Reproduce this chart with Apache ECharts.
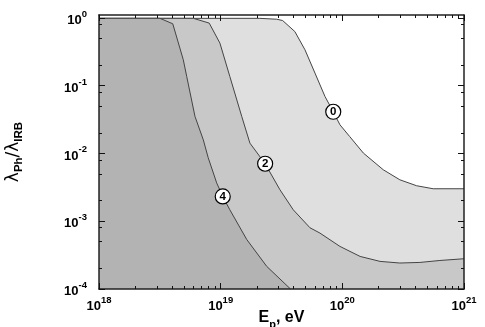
<!DOCTYPE html>
<html><head><meta charset="utf-8">
<script src="https://cdn.jsdelivr.net/npm/echarts@6/dist/echarts.min.js"></script>
<style>html,body{margin:0;padding:0;background:#fff}#c{width:485px;height:327px}</style>
</head><body><div id="c"></div>
<script>
// Contour boundaries (E_p in eV, lambda_Ph/lambda_IRB)
const curve0 = [[1e18,1],[2.1e19,1],[2.89e19,0.97],[3.23e19,0.928],[4.07e19,0.638],[4.93e19,0.343],[5.96e19,0.155],[7.2e19,0.07],[8.42e19,0.0416],[9.56e19,0.0267],[1.15e20,0.0179],[1.49e20,0.0102],[2.17e20,0.00578],[2.97e20,0.00411],[4.07e20,0.00336],[5.58e20,0.00303],[1e21,0.00303]];
const curve2 = [[1e18,1],[5.96e18,1],[8.05e18,0.85],[9.86e18,0.43],[1.19e19,0.138],[1.49e19,0.0355],[1.74e19,0.0143],[2.32e19,0.0071],[3.07e19,0.00293],[3.95e19,0.00148],[5.42e19,8.03e-4],[6.55e19,6.7e-4],[9.56e19,4.26e-4],[1.4e20,3.03e-4],[2.04e20,2.56e-4],[2.97e20,2.42e-4],[4.34e20,2.47e-4],[6.34e20,2.64e-4],[1e21,2.8e-4]];
const curve4 = [[1e18,1],[3.17e18,1],[4.04e18,0.83],[4.93e18,0.244],[5.26e18,0.138],[6.15e18,0.0355],[7.2e18,0.016],[7.9e18,0.0087],[9.27e18,0.0037],[1.04e19,0.00233],[1.19e19,0.00148],[1.64e19,5.37e-4],[2.39e19,2.16e-4],[3.75e19,1e-4]];
const contourLabels = [[8.42e19,0.0416,'0'],[2.32e19,0.0071,'2'],[1.04e19,0.00233,'4']];
const xMajorTicks = [1e18,1e19,1e20,1e21];
const xTickLabels = ['18','19','20','21'];
const yMajorTicks = [1e-4,1e-3,1e-2,1e-1,1];
const yTickLabels = ['-4','-3','-2','-1','0'];
const xMinorMult = [2,3,4,5,6,7,8,9];
const yMinorMult = [2,5,8];

const xMin = 1e18, xMax = 1e21, yMin = 1e-4, yMax = 1.12;
const FONT = 'Liberation Sans, Arial, sans-serif';

function fmt(ticks, labels) {
  return function (val) {
    for (let i = 0; i < ticks.length; i++) {
      if (Math.abs(val / ticks[i] - 1) < 1e-6) return '{b|10}{s|' + labels[i] + '}';
    }
    return '';
  };
}
const richLab = {
  b: {fontSize: 13, fontWeight: 'bold', fontFamily: FONT, color: '#000', lineHeight: 18, verticalAlign: 'bottom'},
  s: {fontSize: 9.5, fontWeight: 'bold', fontFamily: FONT, color: '#000', lineHeight: 9, verticalAlign: 'top'}
};
const lineCol = '#222';
const tickCol = '#111';
const chart = echarts.init(document.getElementById('c'), null, {renderer: 'canvas'});
chart.setOption({
  animation: false,
  grid: {left: 99, right: 21, top: 15, bottom: 38, outerBoundsMode: 'none'},
  xAxis: [{
    type: 'log', min: xMin, max: xMax, logBase: 10, position: 'bottom', z: 10,
    axisLine: {show: true, lineStyle: {color: lineCol, width: 1.5}},
    axisTick: {show: false}, splitLine: {show: false},
    axisLabel: {margin: 6, formatter: fmt(xMajorTicks, xTickLabels), rich: richLab, showMinLabel: true, showMaxLabel: true},
    name: '{b|E}{sub|p}{b|, eV}', nameLocation: 'middle', nameGap: 21, nameMoveOverlap: false,
    nameTextStyle: {rich: {
      b: {fontSize: 16, fontWeight: 'bold', fontFamily: FONT, color: '#000', lineHeight: 20, verticalAlign: 'top'},
      sub: {fontSize: 11, fontWeight: 'bold', fontFamily: FONT, color: '#000', lineHeight: 11, verticalAlign: 'bottom'}
    }}
  }, {
    type: 'log', min: xMin, max: xMax, logBase: 10, position: 'top', z: 10,
    axisLine: {show: true, lineStyle: {color: lineCol, width: 1.5}},
    axisTick: {show: false}, axisLabel: {show: false}, splitLine: {show: false}
  }],
  yAxis: [{
    type: 'log', min: yMin, max: yMax, logBase: 10, position: 'left', z: 10,
    axisLine: {show: true, lineStyle: {color: lineCol, width: 1.5}},
    axisTick: {show: false}, splitLine: {show: false},
    axisLabel: {margin: 12, formatter: fmt(yMajorTicks, yTickLabels), rich: richLab},
    name: '{l|λ}{s|Ph}{l|/λ}{s|IRB}', nameLocation: 'middle', nameGap: 74, nameRotate: 90, nameMoveOverlap: false,
    nameTextStyle: {rich: {
      l: {fontSize: 17, fontFamily: 'DejaVu Sans, sans-serif', color: '#000', lineHeight: 20, verticalAlign: 'top'},
      s: {fontSize: 11.5, fontWeight: 'bold', fontFamily: FONT, color: '#000', lineHeight: 11, verticalAlign: 'bottom'}
    }}
  }, {
    type: 'log', min: yMin, max: yMax, logBase: 10, position: 'right', z: 10,
    axisLine: {show: true, lineStyle: {color: lineCol, width: 1.5}},
    axisTick: {show: false}, axisLabel: {show: false}, splitLine: {show: false}
  }],
  series: [
    {type: 'line', data: curve0, symbol: 'none', z: 2, lineStyle: {color: '#444', width: 1},
     areaStyle: {color: '#dfdfdf', opacity: 1, origin: 'start'}},
    {type: 'line', data: curve2, symbol: 'none', z: 3, lineStyle: {color: '#444', width: 1},
     areaStyle: {color: '#c8c8c8', opacity: 1, origin: 'start'}},
    {type: 'line', data: curve4, symbol: 'none', z: 4, lineStyle: {color: '#444', width: 1},
     areaStyle: {color: '#b3b3b3', opacity: 1, origin: 'start'}},
    {type: 'scatter', data: contourLabels, symbol: 'circle', symbolSize: 15, z: 6,
     itemStyle: {color: '#fff', borderColor: '#000', borderWidth: 1.2, opacity: 1},
     label: {show: true, position: 'inside', formatter: p => p.value[2], fontSize: 11.5, fontWeight: 'bold', fontFamily: FONT, color: '#000'}}
  ]
});

// Tick marks on all four sides, positioned through the axes' own scales.
const px = v => Math.round(v - 0.5) + 0.5;
const X = v => chart.convertToPixel({xAxisIndex: 0}, v);
const Y = v => chart.convertToPixel({yAxisIndex: 0}, v);
const xL = X(xMin), xR = X(xMax), yB = Y(yMin), yT = Y(yMax);
const ticks = [];
function addX(v, len) {
  const x = px(X(v));
  ticks.push({x1: x, y1: yB, x2: x, y2: yB - len});
  ticks.push({x1: x, y1: yT, x2: x, y2: yT + len});
}
function addY(v, len) {
  const y = px(Y(v));
  ticks.push({x1: xL, y1: y, x2: xL + len, y2: y});
  ticks.push({x1: xR, y1: y, x2: xR - len, y2: y});
}
xMajorTicks.forEach(v => addX(v, 6));
for (let i = 0; i < xMajorTicks.length - 1; i++) xMinorMult.forEach(m => addX(xMajorTicks[i] * m, 3));
yMajorTicks.forEach(v => addY(v, 6));
for (let i = 0; i < yMajorTicks.length - 1; i++) yMinorMult.forEach(m => addY(yMajorTicks[i] * m, 3));
chart.setOption({
  graphic: {elements: ticks.map(s => ({type: 'line', z: 100, silent: true, shape: s, style: {stroke: tickCol, lineWidth: 1}}))}
});
</script></body></html>
